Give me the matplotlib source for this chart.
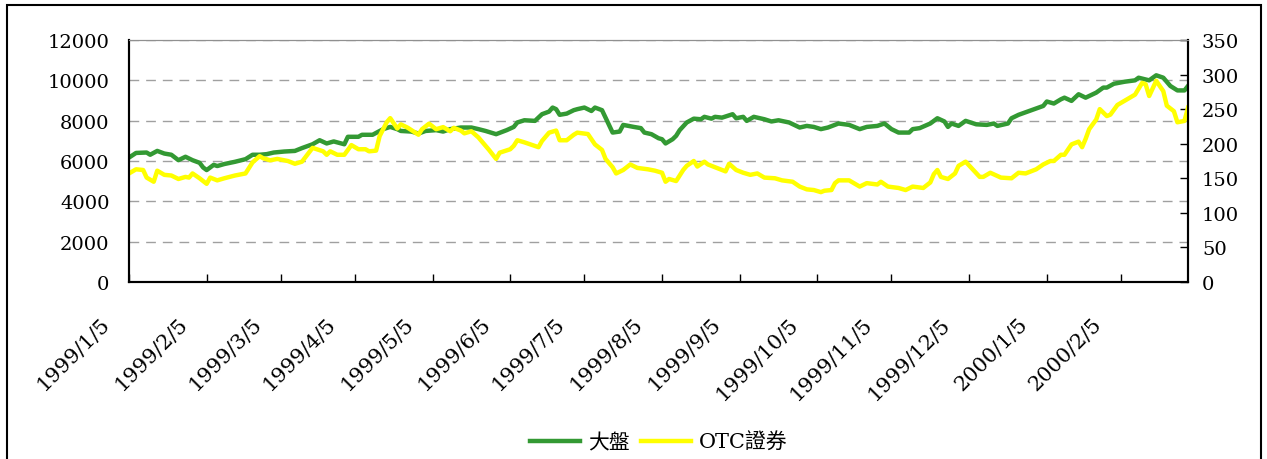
#! /usr/bin/env python
# -*- coding: utf-8 -*-

import matplotlib
matplotlib.use('Agg')
import matplotlib.pyplot as plt
from matplotlib.patches import Rectangle
from matplotlib.transforms import ScaledTranslation

plt.rcParams['font.family'] = ['DejaVu Serif', 'Noto Sans CJK TC']

''' x axis: trading-day index, one tick per month '''
tick_pos = [0, 22, 43, 64, 86, 108, 129, 151, 173, 195, 216, 238, 260, 281]
tick_labels = ['1999/1/5', '1999/2/5', '1999/3/5', '1999/4/5', '1999/5/5',
               '1999/6/5', '1999/7/5', '1999/8/5', '1999/9/5', '1999/10/5',
               '1999/11/5', '1999/12/5', '2000/1/5', '2000/2/5']

''' 大盤 (left axis) '''
taiex_idx = [0, 2, 5, 6, 8, 10, 12, 14, 16, 18, 20, 21, 22, 24, 25, 27, 30, 33, 35, 37, 39, 41, 44, 47, 49,
             52, 54, 56, 58, 61, 62, 65, 66, 69, 72, 74, 76, 77, 80, 82, 84, 87, 89, 91, 94, 97,
             99, 101, 104, 107, 109, 110, 112, 115, 117, 119, 120, 121, 122, 124, 126, 127, 129, 131, 132,
             134, 135, 137, 139, 140, 143, 145, 146, 148,
             150, 151, 152, 154, 155, 156, 158, 160, 162, 163, 165, 166, 168, 171, 172, 174, 175, 177, 180,
             182, 184, 187, 190, 192, 194, 196, 198,
             201, 204, 207, 209, 212, 214, 216, 218, 221, 222, 224, 227, 229, 231, 232, 233, 235, 237, 240,
             243, 245, 246, 249, 250,
             252, 255, 259, 260, 262, 264, 265, 267, 269, 271, 274, 276, 277, 279, 282, 285, 286, 289, 291,
             293, 295, 297, 299, 300]
taiex_val = [6170, 6400, 6420, 6310, 6500, 6370, 6310, 6040, 6210, 6040, 5910, 5680, 5550, 5810, 5750, 5850,
             5960, 6090, 6310, 6310, 6340, 6420, 6470, 6500, 6640,
             6830, 7030, 6870, 6970, 6830, 7200, 7200, 7300, 7300, 7580, 7690, 7580, 7490, 7460, 7360, 7490,
             7530, 7460, 7580, 7660, 7660,
             7580, 7490, 7330, 7530, 7690, 7910, 8020, 7990, 8320, 8450, 8650, 8570, 8290, 8350, 8520, 8570,
             8650, 8480, 8650, 8520, 8150, 7410, 7460, 7790, 7690, 7630, 7410, 7330,
             7130, 7080, 6870, 7080, 7250, 7530, 7910, 8100, 8070, 8190, 8100, 8190, 8150, 8320, 8120, 8190,
             7990, 8190, 8070, 7960, 8020, 7910, 7660, 7740, 7690, 7580, 7660,
             7860, 7790, 7580, 7690, 7740, 7860, 7580, 7410, 7410, 7580, 7630, 7860, 8120, 7960, 7690, 7860,
             7740, 7990, 7820, 7790, 7860, 7740, 7860, 8120,
             8290, 8480, 8730, 8950, 8850, 9060, 9140, 8980, 9310, 9140, 9390, 9640, 9640, 9830, 9930, 10000,
             10130, 10000, 10250, 10130, 9720, 9500, 9500, 9720]

''' OTC證券 (right axis) '''
otc_idx = [0, 2, 4, 5, 7, 8, 10, 12, 14, 16, 17, 18, 20, 22, 23, 25, 27, 30, 33, 35, 37, 38, 40, 42, 45, 47,
           49, 52, 55, 56, 57, 59, 61, 63, 65, 67, 68, 70, 71, 73, 74, 76, 77, 79, 82, 83, 85, 87, 89, 91, 92,
           94, 95, 97, 99,
           101, 102, 104, 105, 108, 109, 110, 112, 116, 117, 119, 121, 122, 124, 126, 127, 130, 132, 134, 135,
           137, 138, 140, 142, 144, 147,
           149, 151, 152, 153, 155, 156, 157, 158, 160, 161, 163, 164, 166, 169, 170, 172, 174, 176, 178, 180,
           183, 185, 188, 190, 192, 194, 196, 197, 199, 200,
           201, 204, 207, 209, 212, 213, 215, 218, 220, 222, 225, 227, 228, 229, 230, 232, 234, 235, 237, 239,
           241, 242, 244, 247, 250,
           252, 254, 257, 259, 261, 262, 264, 265, 267, 269, 270, 271, 272, 274, 275, 277, 278, 280, 282, 285,
           287, 288, 289, 291, 293, 294, 296, 297, 299, 300]
otc_val = [157, 163, 162, 151, 145, 161, 155, 154, 149, 152, 151, 157, 150, 142, 151, 147, 150, 154, 157, 173,
           182, 179, 176, 178, 175, 171,
           174, 194, 189, 184, 189, 184, 184, 198, 192, 192, 189, 190, 211, 231, 237, 222, 228, 223, 213, 221,
           229, 221, 224, 218, 223, 219, 215, 218, 209,
           197, 191, 178, 187, 192, 197, 205, 202, 195, 204, 216, 219, 205, 205, 213, 216, 214, 199, 191, 178,
           166, 157, 162, 170, 165, 163,
           161, 158, 145, 149, 146, 154, 162, 168, 175, 167, 174, 170, 166, 160, 171, 162, 158, 155, 157, 151,
           150, 147, 145, 138, 134, 133, 130, 132, 133, 143,
           147, 147, 138, 143, 141, 145, 138, 136, 133, 138, 136, 144, 156, 162, 152, 149, 157, 168, 174, 163,
           152, 152, 158, 151, 150,
           158, 157, 163, 170, 175, 175, 184, 184, 199, 203, 195, 207, 221, 235, 250, 240, 242, 256, 262, 271,
           288, 286, 269, 291, 276, 255, 247, 231, 233, 252]


def main():
    fig = plt.figure(figsize=(12.67, 4.6), dpi=100)
    axe = fig.add_axes([129 / 1267, 1 - 283 / 460, (1188 - 129) / 1267, (283 - 41) / 460])
    axr = axe.twinx()

    axe.set_xlim(0, 300)
    axe.set_ylim(0, 12000)
    axr.set_ylim(0, 350)
    axe.set_yticks(range(0, 12001, 2000))
    axr.set_yticks(range(0, 351, 50))

    axe.grid(axis='y', ls=(0, (7, 5)), color='#a0a0a0', lw=1)
    axe.set_axisbelow(True)

    axe.tick_params(axis='x', direction='in', length=6, width=1, pad=10)
    axe.tick_params(axis='y', length=0, pad=14, labelsize=14)
    axr.tick_params(axis='y', direction='in', length=6, width=1, pad=10, labelsize=14)

    axe.set_xticks(tick_pos)
    axe.set_xticklabels(tick_labels, rotation=45, ha='right', va='top',
                        rotation_mode='anchor', fontsize=15)
    ''' rotated labels sit a bit left of / below their tick, as in the original '''
    offset = ScaledTranslation(-0.29, -0.18, fig.dpi_scale_trans)
    for lab in axe.get_xticklabels():
        lab.set_transform(lab.get_transform() + offset)

    for sp in ['left', 'bottom', 'right']:
        axe.spines[sp].set_linewidth(1.5)
        axr.spines[sp].set_linewidth(1.5)
    axe.spines['top'].set_color('#909090')
    axr.spines['top'].set_color('#909090')

    l1, = axe.plot(taiex_idx, taiex_val, color='#339933', lw=3.2, label='大盤')
    l2, = axr.plot(otc_idx, otc_val, color='#ffff00', lw=3.2, label='OTC證券')

    fig.legend(handles=[l1, l2], loc='center', bbox_to_anchor=(659 / 1267, 1 - 443 / 460),
               ncol=2, frameon=False, fontsize=15, handlelength=2.4, columnspacing=0.5, handletextpad=0.4)

    fig.patches.append(Rectangle((7 / 1267, -0.1), (1261 - 7) / 1267, 1.1 - 6 / 460,
                                 transform=fig.transFigure, fill=False, ec='black', lw=1.5))

    plt.savefig('out.png', dpi=100)
    return 0


if __name__ == '__main__':
    main()
